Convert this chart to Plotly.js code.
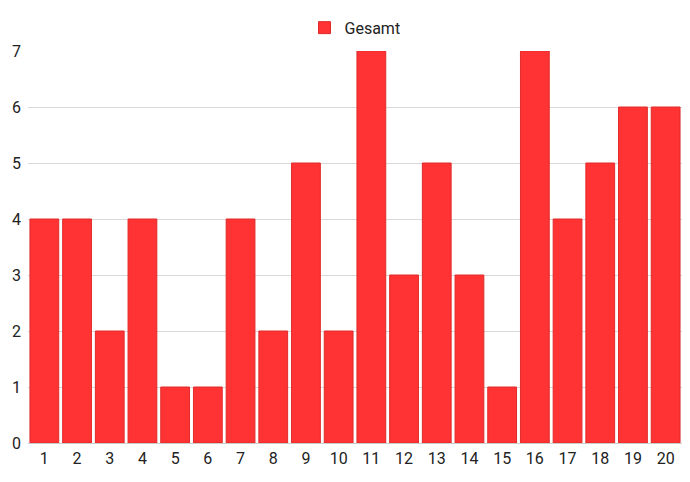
<!DOCTYPE html>
<html><head><meta charset="utf-8">
<script src="https://cdn.plot.ly/plotly-3.0.1.min.js"></script>
<style>html,body{margin:0;padding:0;background:#fff}#chart{width:690px;height:482px}</style>
</head><body><div id="chart"></div>
<script>
var categories = ["1","2","3","4","5","6","7","8","9","10","11","12","13","14","15","16","17","18","19","20"];
var gesamt = [4,4,2,4,1,1,4,2,5,2,7,3,5,3,1,7,4,5,6,6];
var seriesName = "Gesamt";
var trace = {
  type: "bar", x: categories, y: gesamt, name: seriesName,
  marker: {color: "#ff3333", line: {color: "#e02a2a", width: 1}},
  showlegend: true
};
var layout = {
  width: 690, height: 482,
  margin: {l: 28, r: 8, t: 51, b: 39},
  paper_bgcolor: "#fff", plot_bgcolor: "#fff",
  font: {family: "Roboto, Noto Sans, sans-serif", size: 16, color: "#222"},
  bargap: 0.12,
  showlegend: true,
  legend: {orientation: "h", x: 0.5, xanchor: "center", y: 1.016, yanchor: "bottom", font: {size: 16}},
  xaxis: {type: "category", showgrid: false, zeroline: false, ticks: "", showline: false, tickfont: {size: 16}, ticklabelstandoff: 4},
  yaxis: {range: [0, 7], dtick: 1, gridcolor: "#d9d9d9", gridwidth: 1, zeroline: true, zerolinecolor: "#cccccc", showline: false, ticks: "", tickfont: {size: 16}, ticklabelstandoff: 6}
};
Plotly.newPlot("chart", [trace], layout, {displayModeBar: false, staticPlot: true});
</script></body></html>
